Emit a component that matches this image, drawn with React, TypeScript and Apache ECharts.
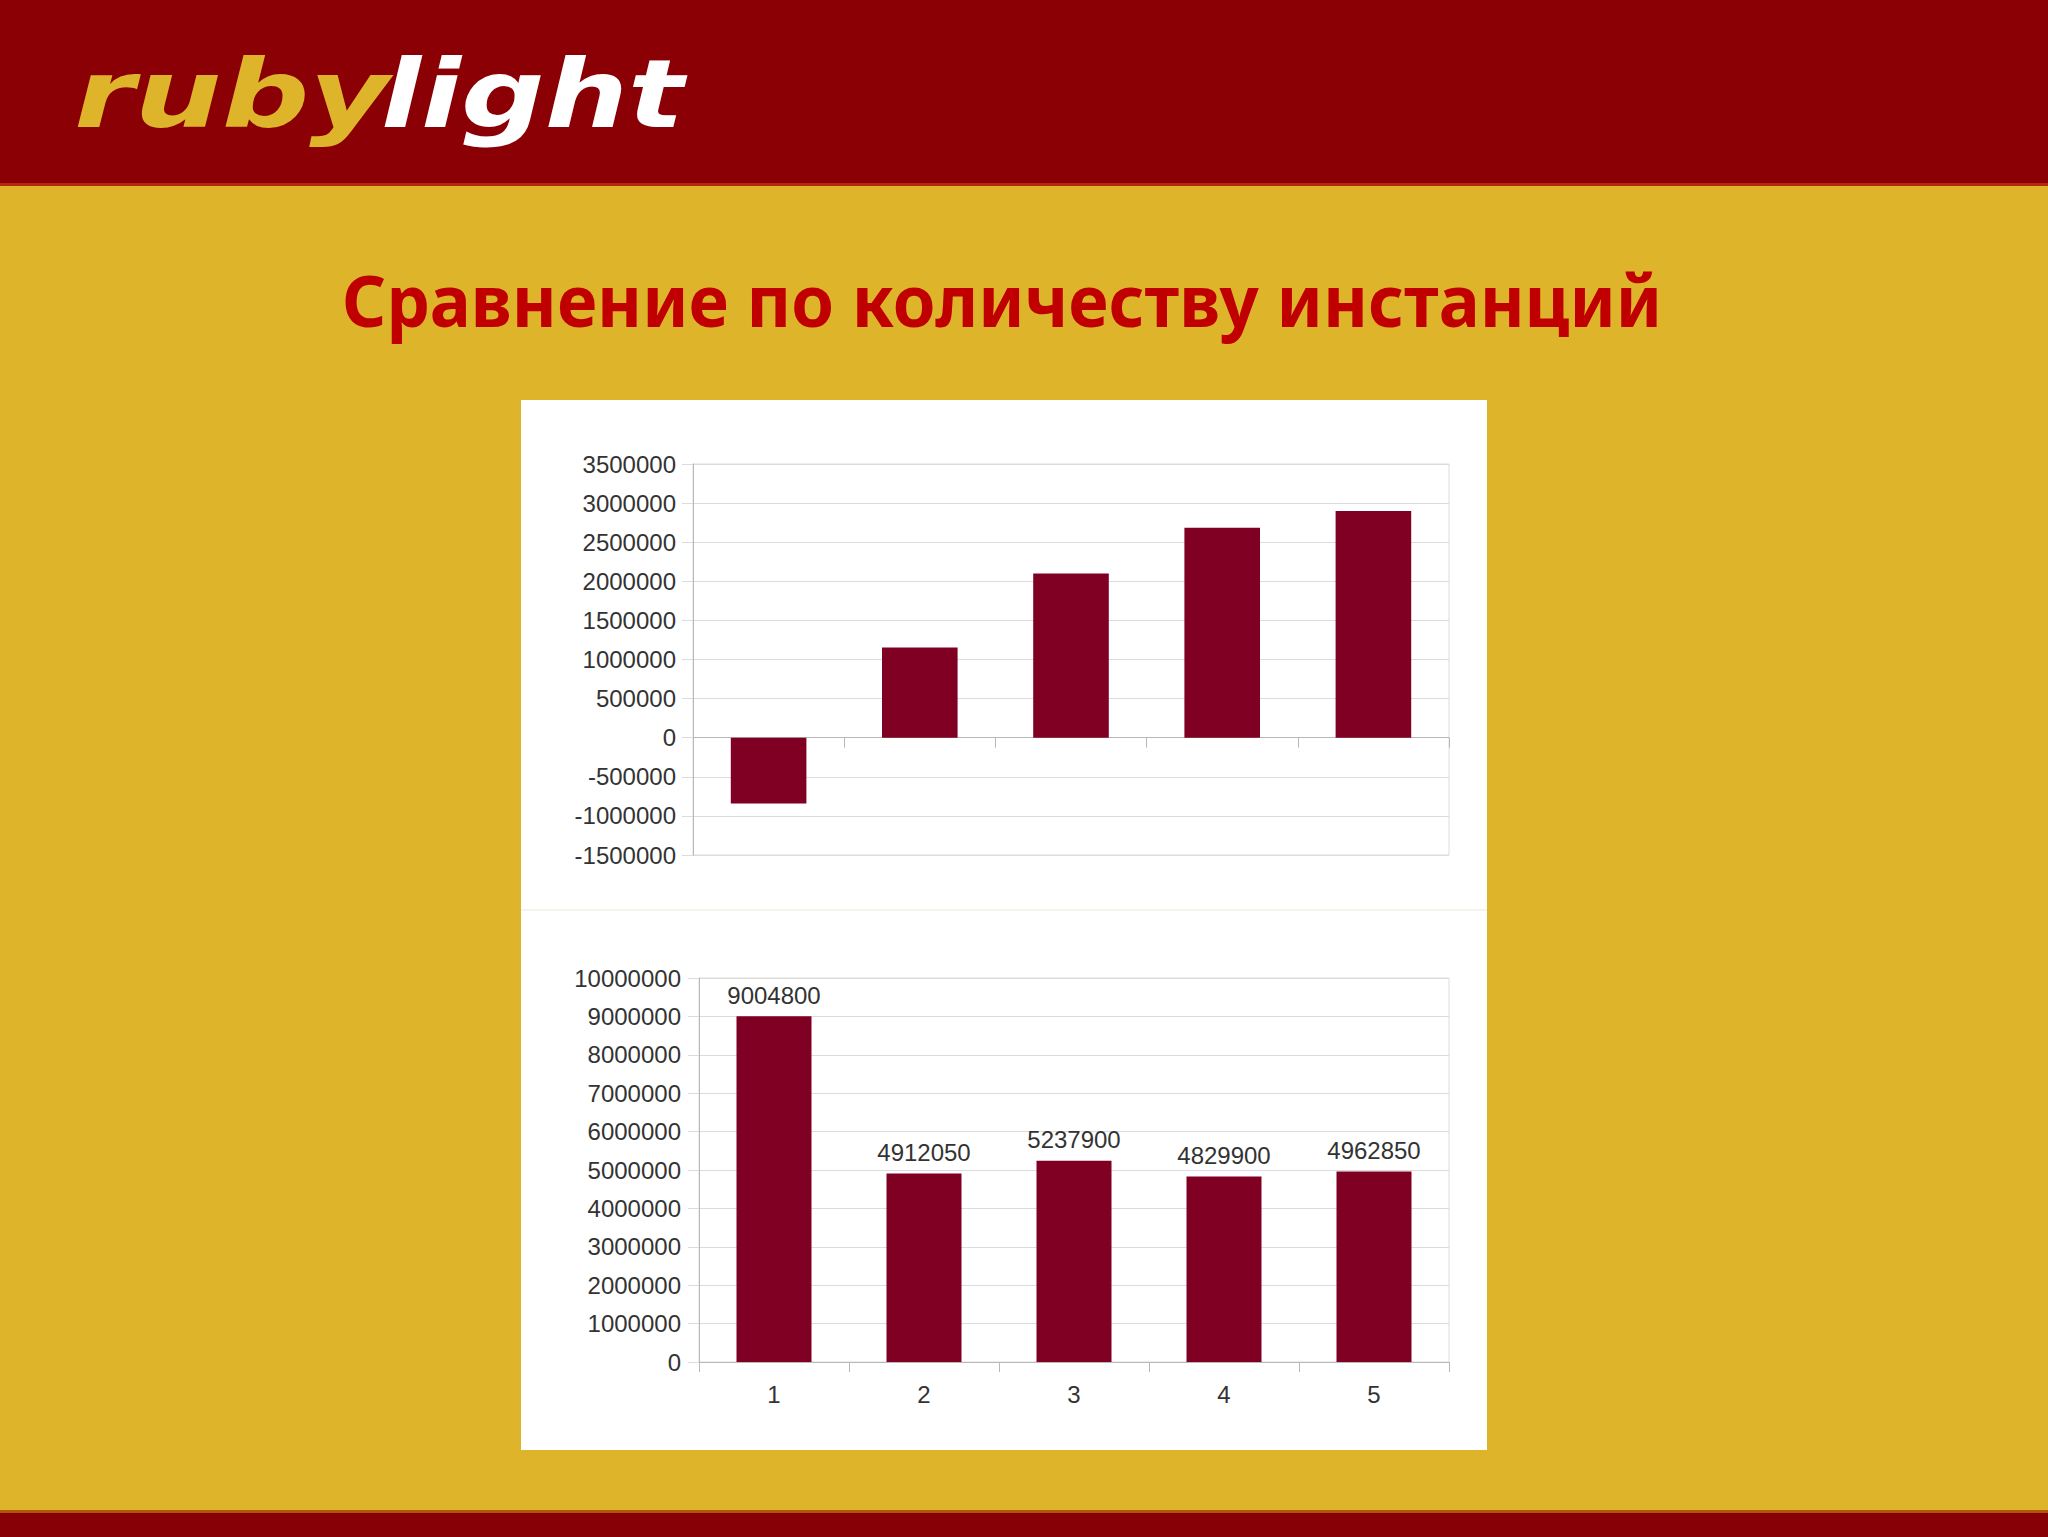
import React, { useEffect, useRef } from "react";
import * as echarts from "echarts";

const categories = ["1", "2", "3", "4", "5"];
const diffValues = [-840000, 1155000, 2100000, 2685000, 2900000];
const instanceValues = [9004800, 4912050, 5237900, 4829900, 4962850];
const titleText = "Сравнение по количеству инстанций";
const logoLeft = "ruby";
const logoRight = "light";

const BAR = "#7F0022";
const AXIS = "#b8b8b8";
const GRIDLINE = "#dcdcdc";
const LABEL = "#333333";
const FONT = "'Liberation Sans', Arial, sans-serif";

export default function App() {
  const ref = useRef<HTMLDivElement>(null);
  useEffect(() => {
    document.body.style.margin = "0";
    const chart = echarts.init(ref.current!, null, { renderer: "svg" });
    const numFmt = (v: number) => String(v);
    chart.setOption({
      animation: false,
      backgroundColor: "#DEB42B",
      textStyle: { fontFamily: FONT },
      graphic: {
        elements: [
          { type: "rect", z: -10, shape: { x: 0, y: 0, width: 2048, height: 184 }, style: { fill: "#8A0004" } },
          { type: "rect", z: -10, shape: { x: 0, y: 183, width: 2048, height: 3 }, style: { fill: "#B52A0C" } },
          { type: "rect", z: -10, shape: { x: 0, y: 1510, width: 2048, height: 3 }, style: { fill: "#B0540E" } },
          { type: "rect", z: -10, shape: { x: 0, y: 1513, width: 2048, height: 24 }, style: { fill: "#870005" } },
          { type: "rect", z: -10, shape: { x: 521, y: 400, width: 966, height: 1050 }, style: { fill: "#FFFFFF" } },
          { type: "rect", z: -9, shape: { x: 521, y: 909, width: 966, height: 2 }, style: { fill: "#F6F4EA" } },
          {
            type: "text", z: 10, x: 74, y: 94, scaleX: 1.29,
            style: { text: logoLeft, fill: "#DEB42B", font: "italic bold 95px 'DejaVu Sans'", align: "left", verticalAlign: "middle" },
          },
          {
            type: "text", z: 10, x: 381, y: 94, scaleX: 1.23,
            style: { text: logoRight, fill: "#FFFFFF", font: "italic bold 95px 'DejaVu Sans'", align: "left", verticalAlign: "middle" },
          },
          {
            type: "text", z: 10, x: 1002, y: 299, scaleX: 0.955,
            style: { text: titleText, fill: "#C00000", font: "bold 72px 'Noto Sans'", align: "center", verticalAlign: "middle" },
          },
        ],
      },
      grid: [
        { left: 693, top: 464, width: 756, height: 391, show: true, borderColor: GRIDLINE, borderWidth: 1, backgroundColor: "transparent" },
        { left: 699, top: 978, width: 750, height: 384, show: true, borderColor: GRIDLINE, borderWidth: 1, backgroundColor: "transparent" },
      ],
      xAxis: [
        {
          gridIndex: 0, type: "category", data: categories,
          axisLine: { onZero: true, lineStyle: { color: AXIS } },
          axisTick: { show: true, length: 10, lineStyle: { color: AXIS } },
          axisLabel: { show: false },
          splitLine: { show: false },
        },
        {
          gridIndex: 1, type: "category", data: categories,
          axisLine: { lineStyle: { color: AXIS } },
          axisTick: { show: true, length: 10, lineStyle: { color: AXIS } },
          axisLabel: { color: LABEL, fontSize: 24, margin: 20, fontFamily: FONT },
          splitLine: { show: false },
        },
      ],
      yAxis: [
        {
          gridIndex: 0, type: "value", min: -1500000, max: 3500000, interval: 500000,
          axisLine: { show: true, lineStyle: { color: AXIS } },
          axisTick: { show: true, length: 11, lineStyle: { color: GRIDLINE } },
          axisLabel: { color: LABEL, fontSize: 24, margin: 17, formatter: numFmt, fontFamily: FONT },
          splitLine: { show: true, lineStyle: { color: GRIDLINE } },
        },
        {
          gridIndex: 1, type: "value", min: 0, max: 10000000, interval: 1000000,
          axisLine: { show: true, lineStyle: { color: AXIS } },
          axisTick: { show: true, length: 11, lineStyle: { color: GRIDLINE } },
          axisLabel: { color: LABEL, fontSize: 24, margin: 18, formatter: numFmt, fontFamily: FONT },
          splitLine: { show: true, lineStyle: { color: GRIDLINE } },
        },
      ],
      series: [
        {
          type: "bar", xAxisIndex: 0, yAxisIndex: 0, data: diffValues,
          barWidth: "50%", itemStyle: { color: BAR },
        },
        {
          type: "bar", xAxisIndex: 1, yAxisIndex: 1, data: instanceValues,
          barWidth: "50%", itemStyle: { color: BAR },
          label: { show: true, position: "top", distance: 9, color: LABEL, fontSize: 24, fontFamily: FONT, formatter: (p: any) => String(p.value) },
        },
      ],
    });
    return () => chart.dispose();
  }, []);
  return <div ref={ref} style={{ position: "absolute", left: 0, top: 0, width: 2048, height: 1537 }} />;
}
